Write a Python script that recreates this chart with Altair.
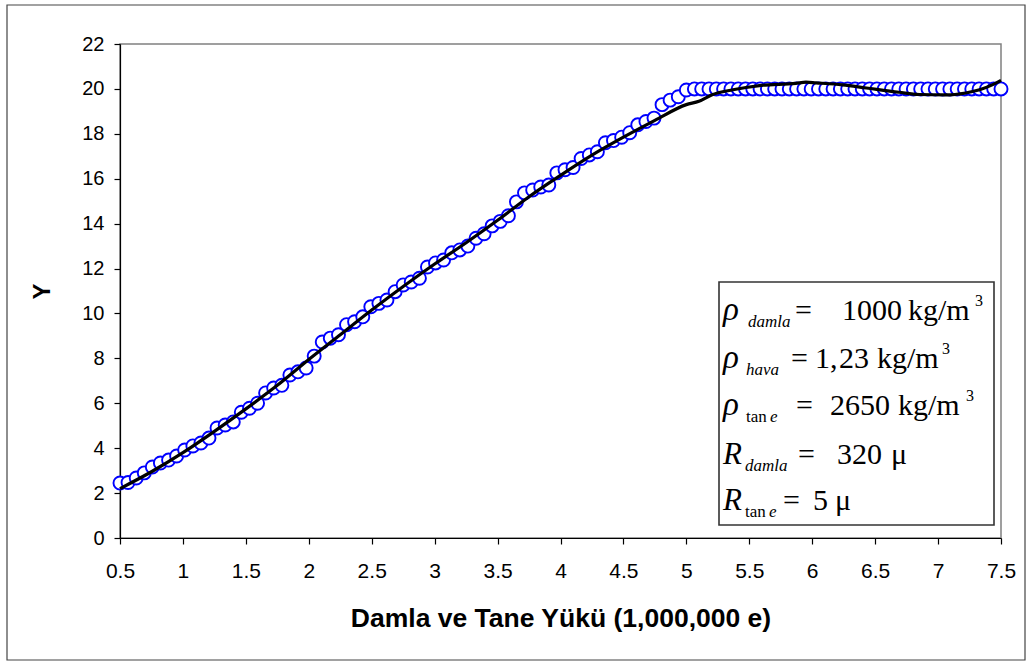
import altair as alt
import pandas as pd

# Load (millions of e) and Y for the rising part of the series
rise_x = [0.500, 0.564, 0.629, 0.693, 0.757, 0.821, 0.886, 0.950, 1.014, 1.079,
          1.143, 1.207, 1.271, 1.336, 1.400, 1.464, 1.529, 1.593, 1.657, 1.721,
          1.786, 1.850, 1.914, 1.979, 2.043, 2.107, 2.171, 2.236, 2.300, 2.364,
          2.429, 2.493, 2.557, 2.621, 2.686, 2.750, 2.814, 2.879, 2.943, 3.007,
          3.071, 3.136, 3.200, 3.264, 3.329, 3.393, 3.457, 3.521, 3.586, 3.650,
          3.714, 3.779, 3.843, 3.907, 3.971, 4.036, 4.100, 4.164, 4.229, 4.293,
          4.357, 4.421, 4.486, 4.550, 4.614, 4.679, 4.743, 4.807, 4.871, 4.936,
          5.000]
rise_y = [2.45, 2.47, 2.67, 2.90, 3.16, 3.34, 3.47, 3.65, 3.92, 4.10,
          4.23, 4.45, 4.90, 5.03, 5.17, 5.60, 5.78, 6.00, 6.46, 6.68,
          6.80, 7.26, 7.40, 7.57, 8.10, 8.73, 8.90, 9.05, 9.50, 9.63,
          9.85, 10.30, 10.45, 10.60, 10.97, 11.27, 11.40, 11.57, 12.07, 12.25,
          12.38, 12.70, 12.83, 13.00, 13.35, 13.55, 13.90, 14.10, 14.35, 14.97,
          15.37, 15.50, 15.63, 15.72, 16.26, 16.40, 16.50, 16.90, 17.06, 17.20,
          17.60, 17.70, 17.85, 18.05, 18.40, 18.55, 18.70, 19.30, 19.50, 19.65,
          19.95]

# Plateau part of the series
flat_x = [5.064, 5.122, 5.180, 5.238, 5.296, 5.354, 5.412, 5.470, 5.528, 5.586,
          5.644, 5.702, 5.760, 5.818, 5.876, 5.934, 5.992, 6.050, 6.108, 6.166,
          6.224, 6.282, 6.340, 6.398, 6.456, 6.514, 6.572, 6.630, 6.688, 6.746,
          6.804, 6.862, 6.920, 6.978, 7.036, 7.094, 7.152, 7.210, 7.268, 7.326,
          7.384, 7.442, 7.500]
flat_y = [20.0, 20.0, 20.0, 20.0, 20.0, 20.0, 20.0, 20.0, 20.0, 20.0,
          20.0, 20.0, 20.0, 20.0, 20.0, 20.0, 20.0, 20.0, 20.0, 20.0,
          20.0, 20.0, 20.0, 20.0, 20.0, 20.0, 20.0, 20.0, 20.0, 20.0,
          20.0, 20.0, 20.0, 20.0, 20.0, 20.0, 20.0, 20.0, 20.0, 20.0,
          20.0, 20.0, 20.0]

# Smoothed fit curve
trend_x = [0.50, 0.75, 1.00, 1.25, 1.50, 1.75, 2.00, 2.25, 2.50, 2.75,
           3.00, 3.25, 3.50, 3.75, 4.00, 4.25, 4.50, 4.75, 5.00, 5.10,
           5.20, 5.37, 5.58, 5.87, 5.95, 6.03, 6.24, 6.43, 6.69, 6.85,
           7.06, 7.22, 7.33, 7.43, 7.50]
trend_y = [2.20, 2.95, 3.80, 4.75, 5.75, 6.80, 7.95, 9.05, 10.15, 11.20,
           12.20, 13.15, 14.15, 15.20, 16.15, 17.05, 17.85, 18.60, 19.30, 19.45,
           19.73, 19.96, 20.15, 20.25, 20.30, 20.27, 20.18, 20.04, 19.85, 19.75,
           19.73, 19.82, 19.96, 20.18, 20.38]

x_ticks = [0.5, 1, 1.5, 2, 2.5, 3, 3.5, 4, 4.5, 5, 5.5, 6, 6.5, 7, 7.5]
y_ticks = [0, 2, 4, 6, 8, 10, 12, 14, 16, 18, 20, 22]

points = pd.DataFrame({
    "x": rise_x + flat_x,
    "y": rise_y + flat_y,
    "order": list(range(len(rise_x) + len(flat_x))),
})
trend = pd.DataFrame({"x": trend_x, "y": trend_y})

SANS = "Liberation Sans"
SERIF = "Liberation Serif"

xscale = alt.Scale(domain=[0.5, 7.5], nice=False, zero=False)
yscale = alt.Scale(domain=[0, 22], nice=False, zero=True)

x_axis = alt.Axis(values=x_ticks, format=".1~f", title="Damla ve Tane Yükü (1,000,000 e)",
                  grid=False, labelFontSize=21, labelPadding=16, tickSize=6, labelFlush=False,
                  titleFontSize=26.5, titleFontWeight="bold", titlePadding=24)
y_axis = alt.Axis(values=y_ticks, title="Y", grid=False, labelFontSize=20, labelFlush=False,
                  labelPadding=10, tickSize=6, titleFontSize=24,
                  titleFontWeight="bold", titlePadding=27)

one = pd.DataFrame({"k": [0]})

frame = alt.Chart(one).mark_rect(
    fill="white", fillOpacity=0, stroke="#444444", strokeWidth=1.2, clip=False
).encode(x=alt.value(-113), x2=alt.value(905), y=alt.value(-39), y2=alt.value(616))

dots = alt.Chart(points).mark_circle(
    fill="white", fillOpacity=1, stroke="#0000ff", strokeWidth=1.9, size=170, opacity=1
).encode(
    x=alt.X("x:Q", scale=xscale, axis=x_axis),
    y=alt.Y("y:Q", scale=yscale, axis=y_axis),
    order=alt.Order("order:Q"),
)

fit = alt.Chart(trend).mark_line(
    color="black", strokeWidth=3.2, interpolate="monotone"
).encode(x=alt.X("x:Q", scale=xscale), y=alt.Y("y:Q", scale=yscale))

box = alt.Chart(one).mark_rect(
    fill="white", stroke="#333333", strokeWidth=1.6
).encode(x=alt.value(599), x2=alt.value(874), y=alt.value(238), y2=alt.value(481))

# Parameter block: (text, x, baseline y, font size, italic)
pieces = [
    ("ρ", 603, 276, 33, True), ("damla", 628, 283, 17, True), ("=", 675, 276, 30, False),
    ("1000", 722, 276, 30, False), ("kg/m", 788, 276, 30, False), ("3", 855, 262, 16, False),

    ("ρ", 603, 324, 33, True), ("hava", 626, 331, 17, True), ("=", 671, 324, 30, False),
    ("1,", 695, 324, 30, False), ("23", 719, 324, 30, False),
    ("kg/m", 757, 324, 30, False), ("3", 822, 310, 16, False),

    ("ρ", 603, 371, 33, True), ("tan", 626, 378, 17, False), ("e", 650, 378, 17, True),
    ("=", 676, 371, 30, False), ("2650", 710, 371, 30, False),
    ("kg/m", 778, 371, 30, False), ("3", 846, 357, 16, False),

    ("R", 603, 420, 31, True), ("damla", 625, 427, 17, True), ("=", 678, 420, 30, False),
    ("320", 717, 420, 30, False), ("μ", 771, 420, 30, False),

    ("R", 603, 466, 31, True), ("tan", 625, 473, 17, False), ("e", 649, 473, 17, True),
    ("=", 663, 466, 30, False), ("5", 693, 466, 30, False), ("μ", 715, 466, 30, False),
]

labels = []
for text, px, py, size, italic in pieces:
    labels.append(
        alt.Chart(one).mark_text(
            text=text, font=SERIF, fontSize=size,
            fontStyle="italic" if italic else "normal",
            align="left", baseline="alphabetic", color="black",
        ).encode(x=alt.value(px), y=alt.value(py))
    )

chart = alt.layer(frame, dots, fit, box, *labels).properties(
    width=881, height=494,
    padding={"left": 120, "top": 44, "right": 32, "bottom": 129},
    autosize=alt.AutoSizeParams(type="none"),
    background="white",
).configure_view(
    stroke="#808080", strokeWidth=1.5
).configure_axis(
    domainColor="black", domainWidth=1.2, tickColor="black", tickWidth=1.2,
    labelColor="black", titleColor="black", labelFont=SANS, titleFont=SANS,
)

chart.save("out.html", embed_options={"renderer": "svg", "actions": False})
